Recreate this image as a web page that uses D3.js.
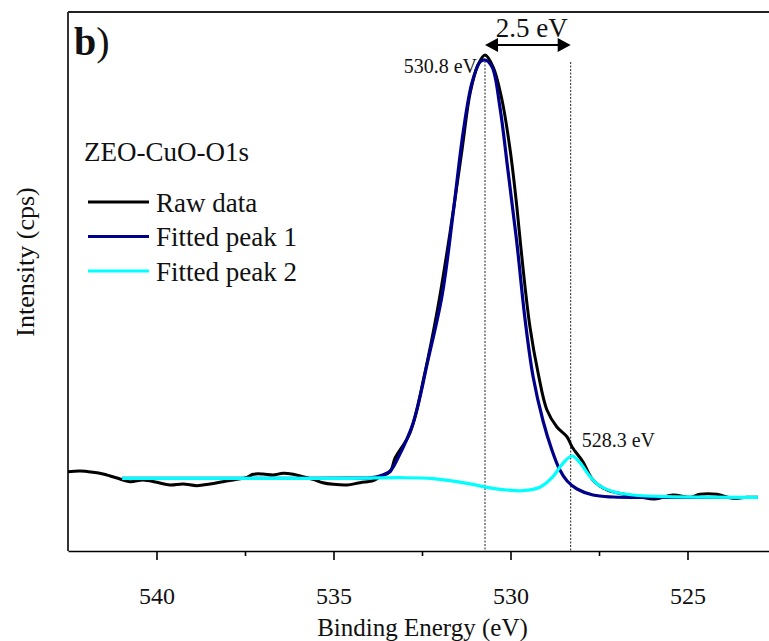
<!DOCTYPE html>
<html>
<head>
<meta charset="utf-8">
<script src="https://cdn.jsdelivr.net/npm/d3@7"></script>
<style>
  html, body { margin: 0; padding: 0; background: #fff; }
  svg { display: block; }
  text { font-family: "Times New Roman", "Liberation Serif", "DejaVu Serif", serif; fill: #111; }
</style>
</head>
<body>
<svg id="chart" width="769" height="641"></svg>
<script>
// ---- Data (binding energy in eV, intensity in arbitrary cps) ----
const rawEnergy = [542.50,542.16,541.79,541.51,541.31,541.09,540.75,540.38,539.99,539.62,539.25,538.86,538.49,538.12,537.73,537.44,537.27,536.99,536.71,536.42,536.14,535.86,535.58,535.30,535.01,534.62,534.25,533.88,533.69,533.40,533.26,532.84,532.42,532.05,531.71,531.37,531.14,530.92,530.72,530.49,530.24,530.01,529.82,529.65,529.45,529.22,528.97,528.69,528.40,528.26,527.95,527.67,527.27,526.82,526.34,525.92,525.41,524.93,524.65,524.17,523.71,523.32,523.01];
const rawIntensity = [793,800,787,770,750,727,693,710,687,660,670,653,670,693,717,737,767,770,760,777,767,743,717,683,667,660,683,703,743,793,930,1180,1780,2440,3180,4010,4580,4860,4960,4840,4510,4010,3440,2840,2240,1780,1410,1240,1140,1040,890,710,610,570,540,520,560,537,567,567,527,537,537];

const peak1Energy = [540.97,538.77,535.95,534.53,533.97,533.69,533.40,533.18,532.75,532.33,531.93,531.62,531.34,531.09,530.86,530.72,530.52,530.30,530.07,529.82,529.59,529.36,529.08,528.84,528.62,528.40,528.12,527.67,527.10,526.06,524.65,523.01];
const peak1Intensity = [727,727,727,730,732,750,800,930,1280,1910,2560,3380,4180,4680,4890,4910,4840,4440,3800,3080,2320,1740,1300,1020,820,700,620,560,540,535,535,535];

const peak2Energy = [540.97,537.36,534.53,533.12,532.19,531.23,530.66,530.10,529.65,529.17,528.80,528.52,528.26,528.04,527.75,527.47,527.10,526.54,525.58,523.01];
const peak2Intensity = [727,727,727,733,723,677,637,610,603,637,743,877,950,883,743,650,593,560,543,537];

const majorTicks = [540, 535, 530, 525];
const minorTicks = [537.5, 532.5, 527.5];
const peakCenters = [530.72, 528.3];
const peakLabels = ["530.8 eV", "528.3 eV"];
const separationLabel = "2.5 eV";
const panelLabel = "b";
const sampleLabel = "ZEO-CuO-O1s";
const legendNames = ["Raw data", "Fitted peak 1", "Fitted peak 2"];
const legendColors = ["#000000", "#00008B", "#00FFFF"];

// ---- Layout ----
const svg = d3.select("#chart");
const pLeft = 68, pRight = 776, pTop = 12, pBottom = 551;

const x = d3.scaleLinear().domain([542.5, 522.5]).range([pLeft, pRight]);
const y = d3.scaleLinear().domain([0, 5390]).range([pBottom, pTop]);

const serif = '"Times New Roman", "Liberation Serif", serif';

// dotted vertical guide lines
svg.append("g").selectAll("line").data(peakCenters).join("line")
  .attr("x1", d => x(d)).attr("x2", d => x(d))
  .attr("y1", (d, i) => i === 0 ? y(4900) : 62).attr("y2", pBottom)
  .attr("stroke", "#222").attr("stroke-width", 1)
  .attr("stroke-dasharray", "2,1.5");

// curves
const mkLine = (E, I) => d3.line()
  .x(i => x(E[i])).y(i => y(I[i]))
  .curve(d3.curveCatmullRom.alpha(0.5))(d3.range(E.length));

svg.append("path").attr("d", mkLine(rawEnergy, rawIntensity))
  .attr("fill", "none").attr("stroke", legendColors[0]).attr("stroke-width", 3).attr("stroke-linejoin", "round");
svg.append("path").attr("d", mkLine(peak1Energy, peak1Intensity))
  .attr("fill", "none").attr("stroke", legendColors[1]).attr("stroke-width", 3.2).attr("stroke-linejoin", "round");
svg.append("path").attr("d", mkLine(peak2Energy, peak2Intensity))
  .attr("fill", "none").attr("stroke", legendColors[2]).attr("stroke-width", 3.2).attr("stroke-linejoin", "round");

// axes
const xAxis = d3.axisBottom(x).tickValues(majorTicks).tickSize(9).tickSizeOuter(0).tickFormat(d3.format("d"));
const gx = svg.append("g").attr("transform", `translate(0,${pBottom})`).call(xAxis);
gx.attr("font-family", serif);
gx.select(".domain").attr("stroke", "#000").attr("stroke-width", 1.6);
gx.selectAll(".tick line").attr("stroke", "#000").attr("stroke-width", 1.6);
gx.selectAll(".tick text").attr("font-family", serif).attr("font-size", 24).attr("dy", null).attr("y", 53).attr("fill", "#111");

const gxm = svg.append("g").attr("transform", `translate(0,${pBottom})`)
  .call(d3.axisBottom(x).tickValues(minorTicks).tickSize(5).tickSizeOuter(0).tickFormat(""));
gxm.select(".domain").remove();
gxm.selectAll(".tick line").attr("stroke", "#000").attr("stroke-width", 1.6);

// left axis (no ticks) and top frame
svg.append("line").attr("x1", pLeft).attr("x2", pLeft).attr("y1", pTop).attr("y2", pBottom)
  .attr("stroke", "#000").attr("stroke-width", 1.6);
svg.append("line").attr("x1", pLeft).attr("x2", pRight).attr("y1", pTop).attr("y2", pTop)
  .attr("stroke", "#222").attr("stroke-width", 2);

// axis titles
svg.append("text").attr("x", (pLeft + 769) / 2 + 4).attr("y", 636).attr("text-anchor", "middle")
  .attr("font-size", 25).text("Binding Energy (eV)");
svg.append("text").attr("transform", "translate(34,262) rotate(-90)").attr("text-anchor", "middle")
  .attr("font-size", 26).text("Intensity (cps)");

// panel label
const pl = svg.append("text").attr("x", 74).attr("y", 55).attr("font-size", 40);
pl.append("tspan").attr("font-weight", "bold").text(panelLabel);
pl.append("tspan").text(")");

// sample label + legend
svg.append("text").attr("x", 84).attr("y", 161).attr("font-size", 27).text(sampleLabel);
const lg = svg.append("g").selectAll("g").data(legendNames).join("g")
  .attr("transform", (d, i) => `translate(0,${202 + i * 34.5})`);
lg.append("line").attr("x1", 88).attr("x2", 149).attr("y1", 0).attr("y2", 0)
  .attr("stroke", (d, i) => legendColors[i]).attr("stroke-width", 3.2);
lg.append("text").attr("x", 156).attr("y", 9.5).attr("font-size", 27).text(d => d);

// peak labels
svg.append("text").attr("x", x(peakCenters[0]) - 8).attr("y", 73).attr("text-anchor", "end")
  .attr("font-size", 20).text(peakLabels[0]);
svg.append("text").attr("x", x(peakCenters[1]) + 11).attr("y", 447)
  .attr("font-size", 20).text(peakLabels[1]);

// double arrow
const ax1 = x(peakCenters[0]), ax2 = x(peakCenters[1]), ay = 45, ah = 13, aw = 7;
svg.append("line").attr("x1", ax1 + ah - 1).attr("x2", ax2 - ah + 1).attr("y1", ay).attr("y2", ay)
  .attr("stroke", "#000").attr("stroke-width", 2);
svg.append("path").attr("d", `M${ax1},${ay} L${ax1 + ah},${ay - aw} L${ax1 + ah},${ay + aw} Z`).attr("fill", "#000");
svg.append("path").attr("d", `M${ax2},${ay} L${ax2 - ah},${ay - aw} L${ax2 - ah},${ay + aw} Z`).attr("fill", "#000");
svg.append("text").attr("x", (ax1 + ax2) / 2 + 4).attr("y", 37).attr("text-anchor", "middle")
  .attr("font-size", 27).text(separationLabel);
</script>
</body>
</html>
